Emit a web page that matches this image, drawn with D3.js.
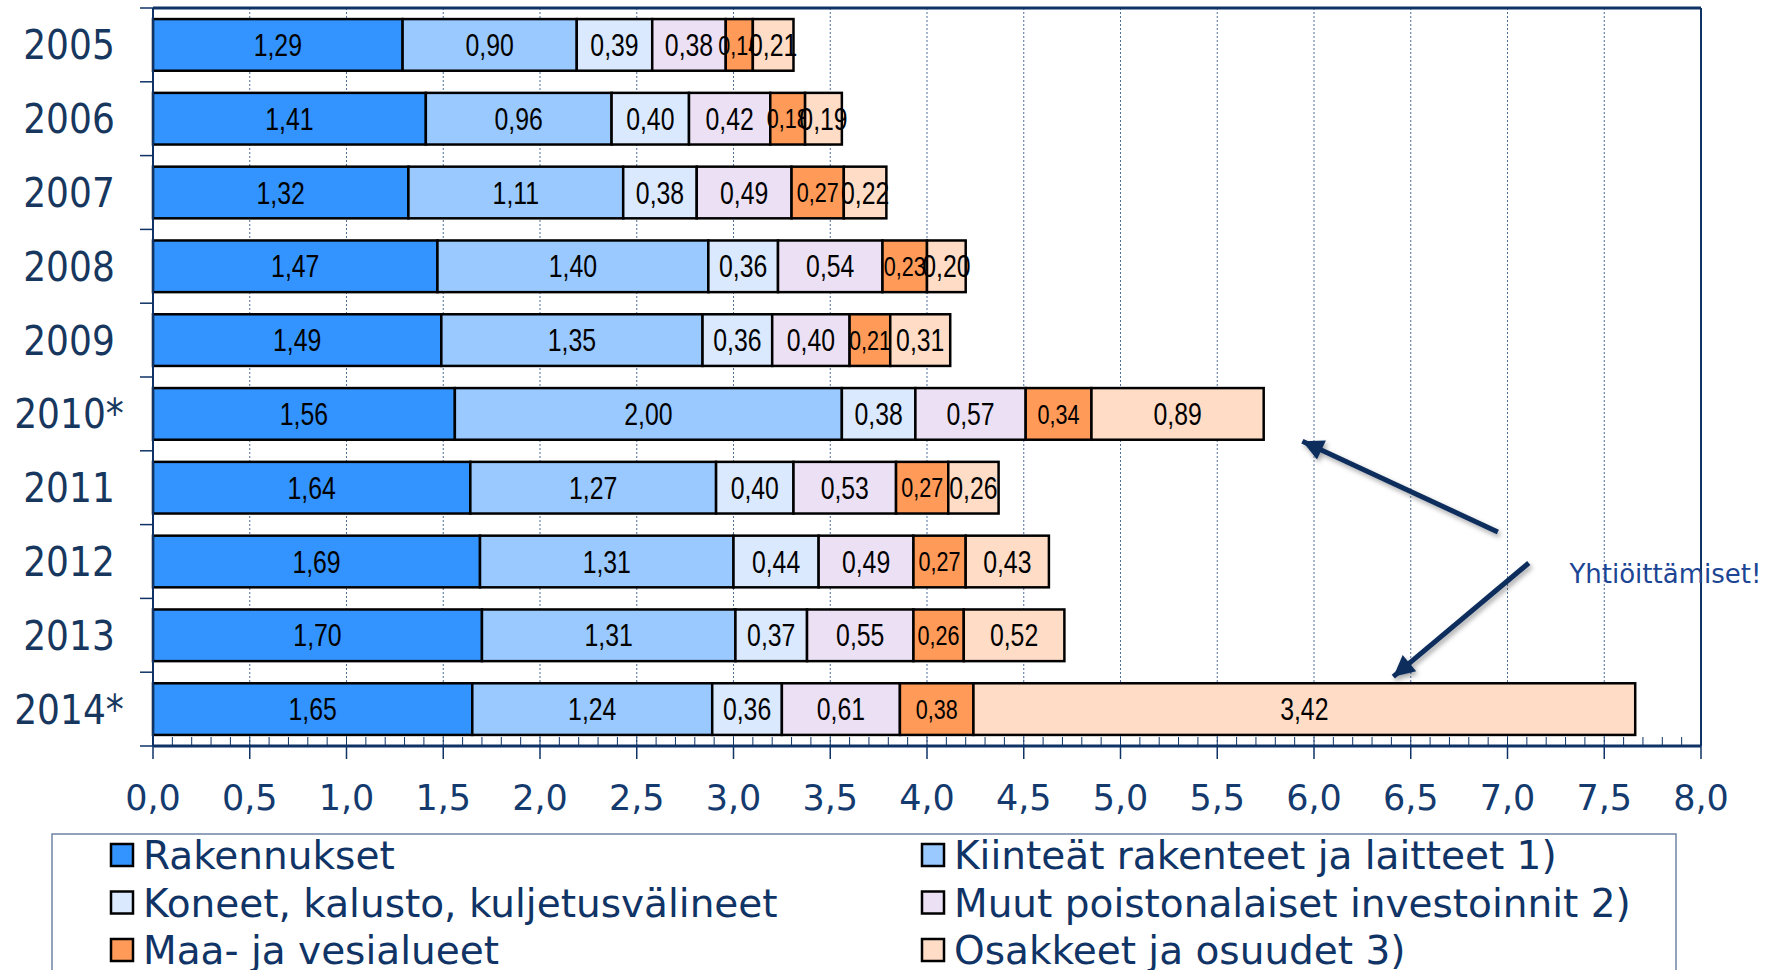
<!DOCTYPE html>
<html>
<head>
<meta charset="utf-8">
<script src="https://cdn.jsdelivr.net/npm/d3@7/dist/d3.min.js"></script>
<style>
  body { margin: 0; background: #fff; }
  .year { font-family: "DejaVu Sans Condensed", "DejaVu Sans", sans-serif; font-stretch: condensed; font-size: 40px; fill: #17375e; }
  .tick-label { font-family: "DejaVu Sans", Verdana, sans-serif; font-size: 35px; fill: #143a6e; }
  .bar-label { font-family: "Liberation Sans", Arial, sans-serif; fill: #000; }
  .legend-text { font-family: "DejaVu Sans", Verdana, sans-serif; font-size: 39px; fill: #113466; }
  .note { font-family: "DejaVu Sans", Verdana, sans-serif; font-size: 26px; fill: #1c4594; }
</style>
</head>
<body>
<svg width="1767" height="970"></svg>
<script>
// data
var years = ["2005", "2006", "2007", "2008", "2009", "2010*", "2011", "2012", "2013", "2014*"];
var seriesNames = ["Rakennukset", "Kiinteät rakenteet ja laitteet 1)", "Koneet, kalusto, kuljetusvälineet",
                   "Muut poistonalaiset investoinnit 2)", "Maa- ja vesialueet", "Osakkeet ja osuudet 3)"];
var rakennukset = [1.29, 1.41, 1.32, 1.47, 1.49, 1.56, 1.64, 1.69, 1.70, 1.65];
var kiinteat    = [0.90, 0.96, 1.11, 1.40, 1.35, 2.00, 1.27, 1.31, 1.31, 1.24];
var koneet      = [0.39, 0.40, 0.38, 0.36, 0.36, 0.38, 0.40, 0.44, 0.37, 0.36];
var muut        = [0.38, 0.42, 0.49, 0.54, 0.40, 0.57, 0.53, 0.49, 0.55, 0.61];
var maa         = [0.14, 0.18, 0.27, 0.23, 0.21, 0.34, 0.27, 0.27, 0.26, 0.38];
var osakkeet    = [0.21, 0.19, 0.22, 0.20, 0.31, 0.89, 0.26, 0.43, 0.52, 3.42];
var xTicks = [0, 0.5, 1, 1.5, 2, 2.5, 3, 3.5, 4, 4.5, 5, 5.5, 6, 6.5, 7, 7.5, 8];
var colors = ["#3393ff", "#99c9ff", "#dae9fd", "#ece1f4", "#ff9a58", "#ffdcc6"];
var noteText = "Yhtiöittämiset!";

(function(d3) {
  'use strict';
  var svg = d3.select("svg");
  var pLeft = 153, pRight = 1701, pTop = 8, pBottom = 746;
  var navy = "#0f3366";

  var x = d3.scaleLinear().domain([0, 8]).range([pLeft, pRight]);
  var y = d3.scaleBand().domain(years).range([pTop, pBottom]).paddingInner(0.3).paddingOuter(0.15);
  var yi = d3.scaleLinear().domain([0, years.length]).range([pTop, pBottom]); // for annotations

  var allSeries = [rakennukset, kiinteat, koneet, muut, maa, osakkeet];
  var table = years.map(function(yr, i) {
    var row = {year: yr};
    seriesNames.forEach(function(s, k) { row[s] = allSeries[k][i]; });
    return row;
  });
  var stacked = d3.stack().keys(seriesNames)(table);

  // grid lines
  svg.append("g").selectAll("line")
    .data(xTicks.filter(function(d) { return d > 0 && d < 8; }))
    .enter().append("line")
    .attr("x1", function(d) { return x(d); }).attr("x2", function(d) { return x(d); })
    .attr("y1", pTop).attr("y2", pBottom)
    .attr("stroke", "#4f6e9c").attr("stroke-width", 1).attr("stroke-dasharray", "2,2");

  // bars
  var fmt = function(v) { return d3.format(".2f")(v).replace(".", ","); };
  var layers = svg.append("g").selectAll("g")
    .data(stacked).enter().append("g")
    .attr("fill", function(d, i) { return colors[i]; });

  layers.selectAll("rect")
    .data(function(d) { return d; })
    .enter().append("rect")
    .attr("x", function(d) { return x(d[0]); })
    .attr("y", function(d) { return y(d.data.year); })
    .attr("width", function(d) { return x(d[1]) - x(d[0]); })
    .attr("height", y.bandwidth())
    .attr("stroke", "#000").attr("stroke-width", 2.5);

  // narrow labels: Arial squeezed to an Arial Narrow width
  layers.each(function(layer, k) {
    d3.select(this).selectAll("text")
      .data(layer).enter().append("text")
      .attr("class", "bar-label")
      .attr("fill", "#000")
      .attr("transform", function(d) {
        var cx = (x(d[0]) + x(d[1])) / 2, cy = y(d.data.year) + y.bandwidth() / 2;
        return "translate(" + cx + "," + cy + ") scale(0.8,1)";
      })
      .attr("dy", "0.36em")
      .attr("text-anchor", "middle")
      .style("font-size", k == 4 ? "27px" : "31px")
      .text(function(d) { return fmt(d[1] - d[0]); });
  });

  // frame
  svg.append("line").attr("x1", pLeft).attr("x2", pRight).attr("y1", pTop).attr("y2", pTop)
    .attr("stroke", navy).attr("stroke-width", 3);
  svg.append("line").attr("x1", pRight).attr("x2", pRight).attr("y1", pTop).attr("y2", pBottom)
    .attr("stroke", navy).attr("stroke-width", 2);

  // category axis
  var yAxis = svg.append("g");
  yAxis.append("line").attr("x1", pLeft).attr("x2", pLeft).attr("y1", pTop).attr("y2", pBottom)
    .attr("stroke", navy).attr("stroke-width", 2);
  yAxis.selectAll(".ytick")
    .data(d3.range(years.length + 1))
    .enter().append("line")
    .attr("x1", pLeft - 13).attr("x2", pLeft)
    .attr("y1", function(d) { return yi(d); }).attr("y2", function(d) { return yi(d); })
    .attr("stroke", navy).attr("stroke-width", 1.5);
  yAxis.selectAll("text")
    .data(years).enter().append("text")
    .attr("class", "year")
    .attr("x", 69)
    .attr("y", function(d) { return y(d) + y.bandwidth() / 2; })
    .attr("dy", "0.36em")
    .attr("text-anchor", "middle")
    .text(function(d) { return d; });

  // value axis
  var xAxis = svg.append("g");
  xAxis.selectAll(".minor")
    .data(d3.range(0, 81).map(function(i) { return i / 10; }))
    .enter().append("line")
    .attr("x1", function(d) { return x(d); }).attr("x2", function(d) { return x(d); })
    .attr("y1", pBottom - 9).attr("y2", pBottom)
    .attr("stroke", navy).attr("stroke-width", 1);
  xAxis.selectAll(".major")
    .data(xTicks).enter().append("line")
    .attr("x1", function(d) { return x(d); }).attr("x2", function(d) { return x(d); })
    .attr("y1", pBottom).attr("y2", pBottom + 13)
    .attr("stroke", navy).attr("stroke-width", 1.5);
  xAxis.append("line").attr("x1", pLeft).attr("x2", pRight).attr("y1", pBottom).attr("y2", pBottom)
    .attr("stroke", navy).attr("stroke-width", 3);
  xAxis.selectAll("text")
    .data(xTicks).enter().append("text")
    .attr("class", "tick-label")
    .attr("x", function(d) { return x(d); })
    .attr("y", 810)
    .attr("text-anchor", "middle")
    .text(function(d) { return d3.format(".1f")(d).replace(".", ","); });

  // legend
  var legend = svg.append("g");
  legend.append("rect").attr("x", 52).attr("y", 834).attr("width", 1624).attr("height", 200)
    .attr("fill", "none").attr("stroke", "#6f84a6").attr("stroke-width", 1.5);
  var items = legend.selectAll(".item")
    .data(seriesNames).enter().append("g")
    .attr("transform", function(d, i) {
      return "translate(" + (i % 2 ? 922 : 111) + "," + (855 + Math.floor(i / 2) * 47.5) + ")";
    });
  items.append("rect").attr("x", 0).attr("y", -11).attr("width", 22).attr("height", 22)
    .attr("fill", function(d, i) { return colors[i]; })
    .attr("stroke", "#000").attr("stroke-width", 2.5);
  items.append("text").attr("class", "legend-text")
    .attr("x", 32).attr("dy", "0.36em")
    .text(function(d) { return d; });

  // annotation
  var defs = svg.append("defs");
  defs.append("marker").attr("id", "head")
    .attr("viewBox", "0 0 10 10").attr("refX", 10).attr("refY", 5)
    .attr("markerWidth", 4.6).attr("markerHeight", 4.2).attr("orient", "auto")
    .attr("markerUnits", "strokeWidth")
    .append("path").attr("d", "M0,0L10,5L0,10z").attr("fill", "#0b2d5c");
  var shadow = defs.append("filter").attr("id", "shadow")
    .attr("x", "-20%").attr("y", "-20%").attr("width", "140%").attr("height", "140%");
  shadow.append("feDropShadow").attr("dx", 2).attr("dy", 3).attr("stdDeviation", 2.5)
    .attr("flood-color", "#000").attr("flood-opacity", 0.35);

  var arrows = [
    {x1: 6.95, y1: 7.10, x2: 5.94, y2: 5.87},
    {x1: 7.11, y1: 7.52, x2: 6.41, y2: 9.06}
  ];
  svg.append("g").selectAll("line")
    .data(arrows).enter().append("line")
    .attr("x1", function(d) { return x(d.x1); }).attr("y1", function(d) { return yi(d.y1); })
    .attr("x2", function(d) { return x(d.x2); }).attr("y2", function(d) { return yi(d.y2); })
    .attr("stroke", "#0b2d5c").attr("stroke-width", 5)
    .attr("marker-end", "url(#head)")
    .attr("filter", "url(#shadow)");

  svg.append("text").attr("class", "note")
    .attr("x", x(7.32)).attr("y", yi(7.79))
    .text(noteText);
})(window.d3);
</script>
</body>
</html>
